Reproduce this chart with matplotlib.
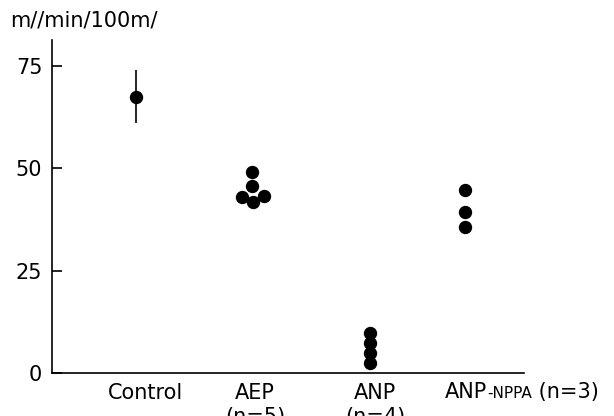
import matplotlib.pyplot as plt

plt.rcParams['font.family'] = ['DejaVu Sans']

# values (m//min/100m/)
control_mean = 67.5
control_err = [[6.4], [6.5]]
aep_vals = [49.2, 45.7, 42.9, 41.8, 43.2]
anp_vals = [9.8, 7.2, 4.7, 2.3]
nppa_vals = [44.7, 39.4, 35.7]

labels = ['Control', 'AEP\n(n=5)', 'ANP\n(n=4)']
yticks = [0, 25, 50, 75]

# layout
group_x = [1.0, 2.0, 3.017, 3.836]
aep_dx = [0.0, 0.0, -0.09, 0.01, 0.1]
label_x = [1.082, 2.026, 3.06]

fig = plt.figure(figsize=(6.14, 4.16), dpi=100)
ax = fig.add_axes([52/614, 43.3/416, 472/614, 332.7/416])

ms = 8.6
ax.errorbar([group_x[0]], [control_mean], yerr=control_err, fmt='o', color='black',
            ms=ms, elinewidth=1.2, capsize=0, clip_on=False)
ax.plot([group_x[1] + d for d in aep_dx], aep_vals, 'o', color='black', ms=ms, clip_on=False)
ax.plot([group_x[2]] * len(anp_vals), anp_vals, 'o', color='black', ms=ms, clip_on=False)
ax.plot([group_x[3]] * len(nppa_vals), nppa_vals, 'o', color='black', ms=ms, clip_on=False)

ax.set_xlim(0.276, 4.345)
ax.set_ylim(0, 81.4)
ax.spines['top'].set_visible(False)
ax.spines['right'].set_visible(False)
for s in ['left', 'bottom']:
    ax.spines[s].set_linewidth(1.2)

ax.set_xticks([])
ax.set_yticks(yticks)
ax.tick_params(axis='y', direction='in', length=7.2, width=1.2, pad=7, labelsize=15)

for x, lab in zip(label_x, labels):
    ax.text(x, -2.6, lab, ha='center', va='top', fontsize=15, linespacing=1.2, clip_on=False)

# ANP-NPPA (n=3): pieces on one baseline, the middle one in small caps
pieces = [('ANP', 15), ('-NPPA', 11), (' (n=3)', 15)]
fig.canvas.draw()
renderer = fig.canvas.get_renderer()
x_disp = ax.transData.transform((3.664, 0))[0]
y_base = -6.2
for txt, fs in pieces:
    x_data = ax.transData.inverted().transform((x_disp, 0))[0]
    t = ax.text(x_data, y_base, txt, ha='left', va='baseline', fontsize=fs, clip_on=False)
    x_disp = t.get_window_extent(renderer).x1

fig.text(10/614, 1 - 11/416, 'm//min/100m/', ha='left', va='top', fontsize=15)

fig.savefig('out.png', dpi=100)
